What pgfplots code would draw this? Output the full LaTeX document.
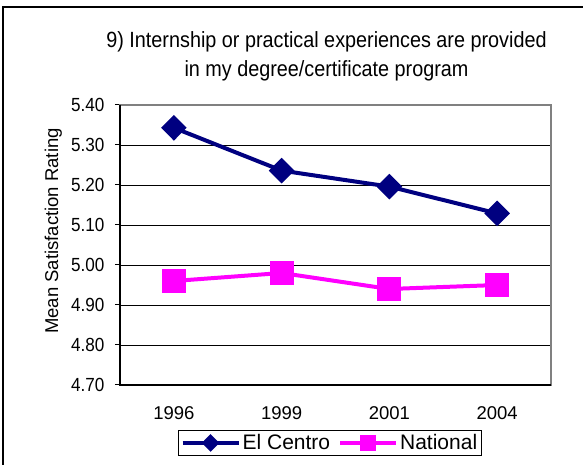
\documentclass[border=0pt]{standalone}
\usepackage{pgfplots}
\pgfplotsset{compat=1.18}
\usepackage{fontspec}
\setmainfont{Liberation Sans}
\newfontfamily\narrow[FakeStretch=0.9]{Liberation Sans}
\definecolor{elnavy}{RGB}{0,0,128}
\definecolor{natmag}{RGB}{255,0,255}
\definecolor{framegray}{RGB}{128,128,128}
\begin{document}
\begin{tikzpicture}[x=1pt,y=1pt]
\path[use as bounding box] (0,0) rectangle (583,465);
\draw[black, line width=1.5pt] (3,-2) -- (3,458) -- (585,458);
\node[anchor=base, font=\narrow\fontsize{22}{26}\selectfont] at (326.5,417) {9) Internship or practical experiences are provided};
\node[anchor=base, font=\narrow\fontsize{22}{26}\selectfont] at (326.5,388) {in my degree/certificate program};
\node[rotate=90, anchor=base, font=\fontsize{18.5}{22}\selectfont] at (58,234) {Mean Satisfaction Rating};
\begin{axis}[
  at={(120pt,80pt)}, anchor=south west,
  scale only axis, width=431pt, height=280pt,
  xmin=-0.5, xmax=3.5, ymin=4.7, ymax=5.4,
  axis line style={draw=framegray, line width=1.5pt},
  xtick pos=lower, ytick pos=left,
  ymajorgrids, grid style={black, line width=0.8pt},
  ytick={4.7,4.8,4.9,5.0,5.1,5.2,5.3,5.4},
  yticklabel style={font=\narrow\fontsize{19}{21}\selectfont, xshift=-7pt},
  /pgf/number format/assume math mode=true,
  /pgf/number format/.cd, fixed, fixed zerofill, precision=2, /pgfplots/.cd,
  xtick={0,1,2,3},
  xticklabels={1996,1999,2001,2004},
  xticklabel style={font=\fontsize{18.5}{20}\selectfont, yshift=-13pt},
  major x tick style={draw=none},
  extra x ticks={-0.5,0.5,1.5,2.5,3.5},
  extra x tick labels={},
  extra x tick style={grid=none, xtick pos=lower, tick style={draw=black, line width=1pt}},
  tick align=outside,
  major tick length=5pt,
  y tick style={draw=black, line width=1pt},
  legend columns=2,
  legend style={at={(axis description cs:0.487,-0.207)}, anchor=center,
    draw=black, line width=1pt, inner sep=2pt,
    font=\fontsize{21}{24}\selectfont,
    /tikz/every even column/.append style={column sep=6pt}},
  legend image code/.code={\draw[mark repeat=2,mark phase=2,#1,mark size=6pt] plot coordinates {(0pt,0pt) (28pt,0pt) (56pt,0pt)};},
  after end axis/.code={\draw[black, line width=1.5pt] (rel axis cs:0,1) -- (rel axis cs:0,0) -- (rel axis cs:1,0);},
]
\addplot[color=elnavy, line width=4pt, mark=diamond*, mark size=10pt, mark options={xscale=1.33, solid}]
  coordinates {(0,5.343) (1,5.236) (2,5.196) (3,5.129)};
\addlegendentry{El Centro}
\addplot[color=natmag, line width=4pt, mark=square*, mark size=10pt, mark options={solid}]
  coordinates {(0,4.96) (1,4.98) (2,4.94) (3,4.95)};
\addlegendentry{National}
\end{axis}
\end{tikzpicture}
\end{document}
